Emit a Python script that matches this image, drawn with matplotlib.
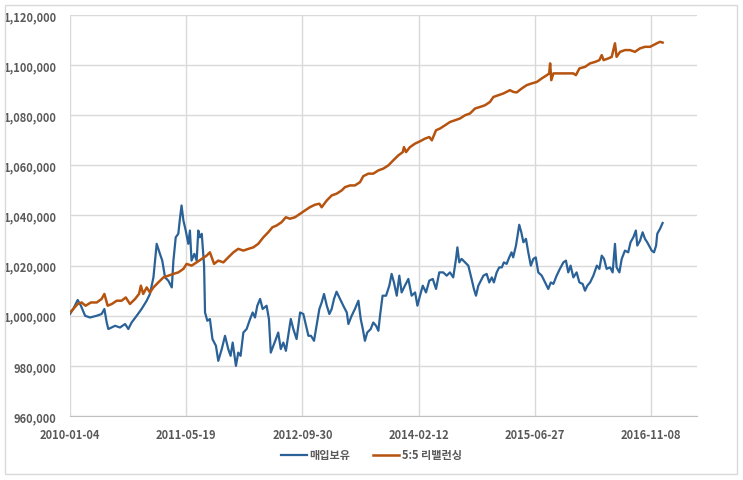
import numpy as np
import pandas as pd
import matplotlib
matplotlib.use('Agg')
import matplotlib.pyplot as plt
import matplotlib.dates as mdates
from matplotlib.patches import Rectangle
from matplotlib.ticker import FuncFormatter

# data (days since 2010-01-04, value in thousand won)
start_date = '2010-01-04'

buyhold_day = [0, 14, 33, 47, 65, 86, 115, 136, 148, 158, 165, 194, 215, 237, 251, 265, 287, 308, 330, 344,
               359, 373, 387, 397, 409, 423, 438, 445, 455, 466, 473, 480, 488, 498, 509, 516, 523, 535, 545, 552,
               559, 567, 577, 581, 591, 602, 613, 628, 638, 653, 667, 681, 691, 700, 714, 724, 734, 746, 760, 775,
               786, 796, 806, 818, 829, 846, 856, 864, 875, 886, 896, 907, 918, 929, 939, 950, 961, 975, 990, 1004,
               1016, 1026, 1037, 1050, 1061, 1073, 1083, 1093, 1105, 1116, 1126, 1136, 1147, 1162, 1176, 1191,
               1198, 1212, 1226, 1241, 1251, 1260, 1269, 1279, 1294, 1305, 1317, 1327, 1334, 1345, 1360, 1374,
               1384, 1394, 1406, 1417, 1427, 1441, 1456, 1470, 1485, 1495, 1506, 1518, 1532, 1546, 1561, 1575,
               1589, 1606, 1621, 1635, 1649, 1661, 1667, 1675, 1685, 1700, 1714, 1728, 1738, 1747, 1757,
               1779, 1793, 1804, 1815, 1824, 1836, 1847, 1858, 1867, 1879, 1890, 1900, 1907, 1919, 1926, 1933,
               1942, 1951, 1962, 1972, 1983, 1994, 2004, 2015, 2030, 2044, 2058, 2069, 2080, 2094, 2108, 2123,
               2134, 2144, 2154, 2166, 2180, 2192, 2206, 2216, 2226, 2238, 2252, 2267, 2278, 2288, 2298, 2309,
               2324, 2335, 2345, 2352, 2364, 2374, 2388, 2402, 2412, 2424, 2435, 2441, 2453, 2464, 2474, 2484,
               2503, 2513, 2522, 2527, 2539, 2550]
buyhold_val = [1000.7, 1002.7, 1006.3, 1004, 1000, 999.3, 1000, 1000.7, 1002.7, 997.3, 994.7, 996, 995.3, 996.7,
               994.7, 997.3, 1000, 1002.7, 1006, 1008.7, 1015.3, 1028.7, 1024.7, 1022, 1015.3, 1014, 1011.3, 1022,
               1031.3, 1032.7, 1038.7, 1044, 1038, 1034, 1028.7, 1034, 1022, 1024.7, 1022, 1034, 1031.3, 1032.7,
               1020, 1001.3, 998, 998.7, 990.7, 988, 982, 986.7, 992, 986.7, 984, 989.3, 980, 985.3, 984, 993.3,
               994.7, 998.7, 1001.3, 999.3, 1004, 1006.7, 1002.7, 1004, 998.7, 985.3, 988, 990.7, 993.3, 986.7,
               989.3, 986, 992, 998.7, 994.7, 990.7, 1001.3, 1000.7, 996, 992, 992, 990, 996, 1002.7, 1005.3,
               1008.7, 1004, 1000.7, 1002.7, 1006.7, 1009.6, 1006.7, 1004, 1001.3,
               996.7, 1000, 1002.7, 1006, 998.7, 994.7, 990, 993.3, 994.7, 997.3, 996, 994, 1000, 1008, 1008,
               1012, 1016.7, 1013.3, 1008, 1016, 1009.3, 1012, 1014.7, 1008, 1009.3, 1004, 1008, 1012, 1009.3,
               1014, 1014.7, 1010.7, 1017.3, 1017.3, 1016, 1017.3, 1015.3, 1022.7, 1027.3, 1021.3, 1022.7,
               1021.3, 1020, 1014.7, 1010.7, 1008, 1012,
               1016, 1016.7, 1013.3, 1015.3, 1013.3, 1017.3, 1019.3, 1019.3, 1021.3, 1020.7, 1023.3, 1025.3,
               1023.3, 1028, 1032, 1036.3, 1033.3, 1029.3, 1030.7, 1025.3, 1020, 1022.7, 1023.3, 1017.3, 1016,
               1013.3, 1010.7, 1013.3, 1012.7, 1016, 1018.7, 1021.3, 1022, 1017.3, 1020, 1015.3, 1017.3, 1013.3,
               1012.7, 1010, 1012, 1013.3, 1016, 1020, 1018.7, 1024, 1022.7, 1018.7, 1019.3, 1017.3, 1028.7,
               1019.3, 1017.3, 1022.7, 1026, 1025.3, 1029.3, 1031.3, 1034, 1028, 1030, 1033.3, 1030.7, 1029.3,
               1026, 1025.3, 1028, 1032.7, 1034.7, 1037]

rebal_day = [0, 14, 33, 50, 67, 90, 115, 136, 148, 162, 180, 201, 222, 240, 258, 280, 297, 305, 315, 330,
             344, 359, 380, 402, 423, 445, 466, 488, 502, 523, 545, 567, 588, 602,
             620, 638, 660, 681, 703, 724, 746, 768, 789, 810, 832, 853, 871, 889, 910, 929, 946, 968, 990,
             1011, 1032, 1054, 1073, 1083, 1105, 1126, 1147, 1169, 1183,
             1205, 1226, 1248, 1262, 1284, 1305, 1327, 1348, 1370, 1391, 1413, 1432, 1437, 1446, 1463, 1485,
             1506, 1528, 1546, 1557, 1575, 1592, 1614, 1635, 1657, 1678, 1700, 1721, 1743,
             1764, 1786, 1807, 1822, 1843, 1865, 1893, 1908, 1922, 1944, 1965, 1987, 2009, 2030, 2052, 2062,
             2066, 2071, 2080, 2102, 2123, 2145, 2166, 2177, 2192, 2216, 2238, 2260, 2278, 2288, 2296, 2317,
             2331, 2345, 2352, 2367, 2388, 2410, 2431, 2453, 2474, 2496, 2510, 2525, 2539, 2550]
rebal_val = [1001.3, 1002.7, 1004.7, 1005.3, 1004, 1005.3, 1005.3, 1006.7, 1008.7, 1004, 1004.7, 1006, 1006,
             1007.3, 1004.7, 1006.7, 1008.7, 1012, 1008.7, 1011.3, 1009.3, 1011.3, 1013.3, 1015.3, 1016,
             1016.7, 1017.3, 1018.7, 1020.7, 1020, 1021.3, 1022.7, 1024, 1025.3,
             1020.7, 1022, 1021.3, 1023.3, 1025.3, 1026.7, 1026, 1026.7, 1027.3, 1028.7, 1031.3, 1033.3,
             1035.3, 1036, 1037.3, 1039.3, 1038.7, 1039.3, 1040.7, 1042, 1043.3, 1044.3, 1044.7, 1043.3, 1046,
             1048, 1048.7, 1050, 1051.3,
             1052, 1052, 1053.3, 1055.7, 1056.7, 1056.7, 1058, 1058.7, 1060, 1062, 1064, 1065.3, 1067.3,
             1065.3, 1067.3, 1068.7, 1069.6, 1070.7, 1071.3, 1070, 1074, 1074.7, 1076, 1077.3, 1078, 1078.7,
             1080, 1080.7, 1082.7,
             1083.3, 1084, 1085.3, 1087.3, 1088, 1088.7, 1090, 1089.3, 1089.1, 1090.7, 1092, 1092.7, 1093.3,
             1094.7, 1096, 1096.7, 1100.7, 1094, 1096.7, 1096.7, 1096.7, 1096.7, 1096.7, 1096, 1098.7, 1099.3,
             1100.7, 1101.3, 1102, 1104, 1102, 1102.7, 1103.3, 1108.7, 1103.3, 1105.3, 1106, 1106, 1105.3,
             1106.7, 1107.3, 1107.3, 1108, 1108.7, 1109.3, 1109]

series_names = ['매입보유', '5:5 리밸런싱']
tick_step_days = 500
axis_end_day = 2698
y_ticks = [960000, 980000, 1000000, 1020000, 1040000, 1060000, 1080000, 1100000, 1120000]


def to_dates(days):
    return pd.Timestamp(start_date) + pd.to_timedelta(days, unit='D')


def main():
    plt.rcParams['font.family'] = ['Noto Sans CJK KR', 'DejaVu Sans']
    fig = plt.figure(figsize=(7.43, 4.81), dpi=100)
    ax = fig.add_axes([70 / 743, 1 - 417 / 481, 627 / 743, 401 / 481])

    ax.plot(to_dates(buyhold_day), np.array(buyhold_val) * 1000, color='#2A6298', lw=1.6,
            label=series_names[0], zorder=3)
    ax.plot(to_dates(rebal_day), np.array(rebal_val) * 1000, color='#B5530F', lw=1.8,
            label=series_names[1], zorder=3)

    ax.set_xlim(to_dates([0])[0], to_dates([axis_end_day])[0])
    ax.set_ylim(y_ticks[0], y_ticks[-1])
    ax.set_xticks(to_dates(list(range(0, 2501, tick_step_days))))
    ax.xaxis.set_major_formatter(mdates.DateFormatter('%Y-%m-%d'))
    ax.set_yticks(y_ticks)
    ax.yaxis.set_major_formatter(FuncFormatter(lambda v, p: '{:,.0f}'.format(v)))

    ax.grid(True, color='#D9D9D9', lw=1, zorder=0)
    ax.tick_params(length=0, labelsize=8, labelcolor='#595959')
    ax.tick_params(axis='x', pad=9)
    ax.tick_params(axis='y', pad=10)
    for lab in ax.get_xticklabels() + ax.get_yticklabels():
        lab.set_fontweight('bold')
    for s in ['top', 'right', 'left']:
        ax.spines[s].set_visible(False)
    ax.spines['bottom'].set_color('#BFBFBF')

    leg = fig.legend(loc='center', bbox_to_anchor=(371 / 743, 1 - 456 / 481), ncol=2, frameon=False,
                     fontsize=8, handlelength=2.4, handletextpad=0.2, columnspacing=2.0)
    for t in leg.get_texts():
        t.set_color('#595959')
        t.set_fontweight('bold')

    fig.patches.append(Rectangle((5 / 743, 6 / 481), 732 / 743, 469 / 481, transform=fig.transFigure,
                                 fill=False, edgecolor='#D9D9D9', lw=1))

    fig.savefig('out.png', dpi=100, facecolor='white')


if __name__ == '__main__': main()
